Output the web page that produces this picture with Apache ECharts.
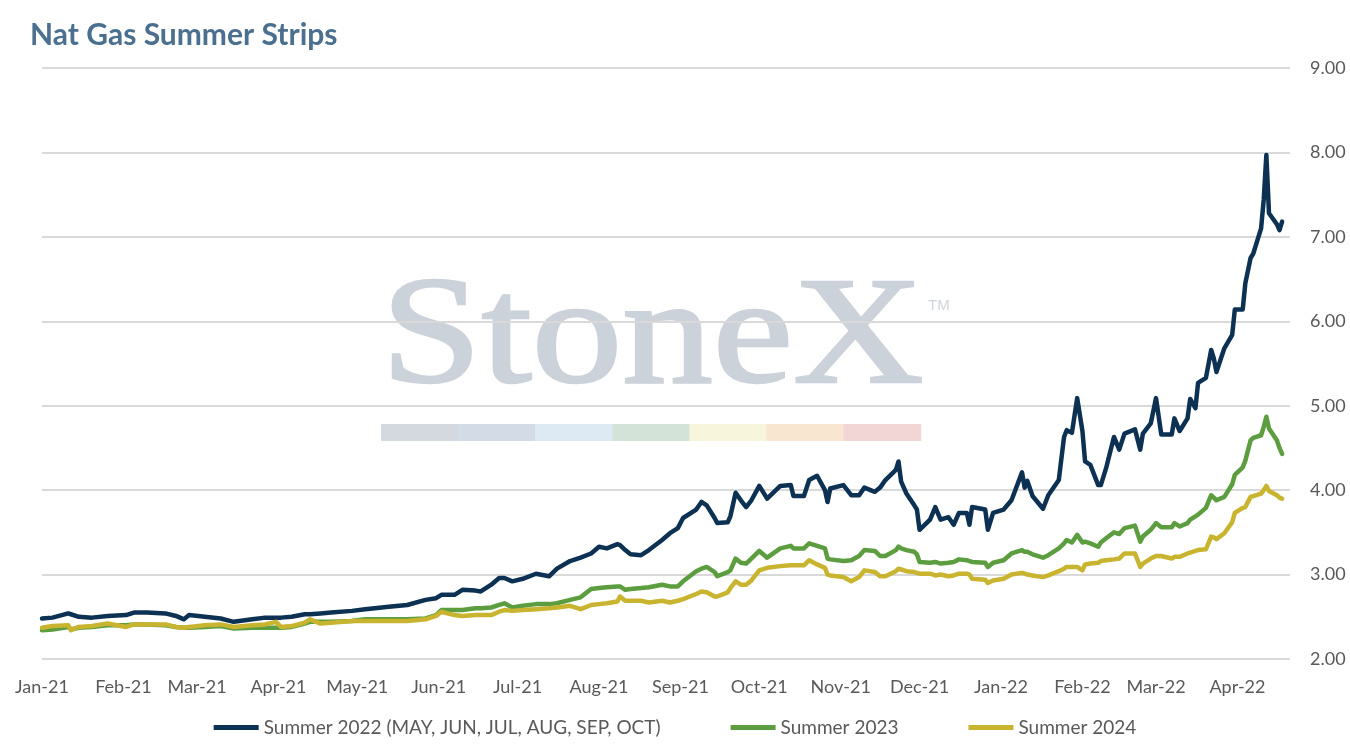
<!DOCTYPE html>
<html>
<head>
<meta charset="utf-8">
<script src="https://cdn.jsdelivr.net/npm/echarts@6/dist/echarts.min.js"></script>
<style>html,body{margin:0;padding:0;background:#fff;}#c{width:1350px;height:750px;}</style>
</head>
<body>
<div id="c"></div>
<script>
const dates = [
'2021-01-01','2021-01-05','2021-01-11','2021-01-12','2021-01-15','2021-01-20','2021-01-26','2021-02-02','2021-02-05','2021-02-10',
'2021-02-17','2021-02-21','2021-02-24','2021-02-26','2021-03-04','2021-03-10','2021-03-15','2021-03-22','2021-03-27','2021-03-31',
'2021-04-02','2021-04-06','2021-04-11','2021-04-13','2021-04-17','2021-04-21','2021-04-29','2021-05-04','2021-05-13','2021-05-20',
'2021-05-27','2021-05-31','2021-06-02','2021-06-07','2021-06-10','2021-06-15','2021-06-17','2021-06-21','2021-06-24','2021-06-26',
'2021-06-29','2021-07-03','2021-07-08','2021-07-13','2021-07-16','2021-07-21','2021-07-25','2021-07-29','2021-08-01','2021-08-04',
'2021-08-08','2021-08-09','2021-08-11','2021-08-13','2021-08-17','2021-08-20','2021-08-25','2021-08-28','2021-08-31','2021-09-02',
'2021-09-07','2021-09-09','2021-09-11','2021-09-14','2021-09-15','2021-09-19','2021-09-20','2021-09-22','2021-09-24','2021-09-26',
'2021-09-28','2021-10-01','2021-10-04','2021-10-09','2021-10-13','2021-10-14','2021-10-18','2021-10-20','2021-10-23','2021-10-26',
'2021-10-27','2021-10-28','2021-11-02','2021-11-05','2021-11-08','2021-11-10','2021-11-14','2021-11-16','2021-11-18','2021-11-22',
'2021-11-23','2021-11-24','2021-11-26','2021-11-29','2021-11-30','2021-12-01','2021-12-05','2021-12-07','2021-12-09','2021-12-12',
'2021-12-14','2021-12-16','2021-12-19','2021-12-20','2021-12-21','2021-12-26','2021-12-27','2021-12-29','2022-01-02','2022-01-05',
'2022-01-09','2022-01-10','2022-01-11','2022-01-13','2022-01-17','2022-01-19','2022-01-23','2022-01-25','2022-01-26','2022-01-28',
'2022-01-30','2022-02-01','2022-02-02','2022-02-04','2022-02-07','2022-02-08','2022-02-10','2022-02-13','2022-02-15','2022-02-17',
'2022-02-21','2022-02-23','2022-02-24','2022-02-27','2022-03-01','2022-03-03','2022-03-07','2022-03-08','2022-03-10','2022-03-13',
'2022-03-14','2022-03-16','2022-03-17','2022-03-20','2022-03-22','2022-03-23','2022-03-24','2022-03-27','2022-03-30','2022-03-31',
'2022-04-03','2022-04-04','2022-04-06','2022-04-07','2022-04-10','2022-04-11','2022-04-12','2022-04-13','2022-04-16','2022-04-17',
'2022-04-18'
];
const summer2022 = [
2.48,2.49,2.54,2.53,2.50,2.49,2.51,2.52,2.55,2.55,
2.54,2.51,2.47,2.52,2.50,2.48,2.44,2.47,2.49,2.49,
2.49,2.50,2.53,2.53,2.54,2.55,2.57,2.59,2.62,2.64,
2.70,2.72,2.76,2.76,2.82,2.81,2.80,2.88,2.96,2.96,
2.92,2.95,3.01,2.98,3.07,3.16,3.20,3.25,3.33,3.31,
3.36,3.35,3.29,3.24,3.23,3.29,3.41,3.49,3.55,3.67,
3.77,3.86,3.82,3.67,3.61,3.62,3.69,3.97,3.88,3.80,
3.88,4.05,3.90,4.05,4.06,3.93,3.93,4.12,4.17,4.00,
3.86,4.02,4.06,3.94,3.94,4.03,3.98,4.03,4.12,4.24,
4.34,4.10,3.96,3.82,3.77,3.53,3.65,3.80,3.65,3.68,
3.59,3.73,3.73,3.59,3.80,3.77,3.53,3.73,3.77,3.88,
4.21,4.03,4.11,3.93,3.78,3.94,4.12,4.63,4.71,4.68,
5.09,4.70,4.34,4.30,4.06,4.06,4.26,4.63,4.48,4.67,
4.72,4.48,4.67,4.79,5.09,4.66,4.66,4.85,4.70,4.85,
5.08,4.97,5.27,5.33,5.66,5.56,5.40,5.68,5.84,6.14,
6.14,6.45,6.75,6.80,7.10,7.44,7.97,7.28,7.15,7.08,
7.18
];
const summer2023 = [
2.34,2.35,2.38,2.35,2.37,2.38,2.40,2.40,2.41,2.41,
2.40,2.38,2.37,2.37,2.38,2.39,2.36,2.37,2.37,2.37,
2.37,2.38,2.42,2.44,2.44,2.44,2.45,2.47,2.47,2.47,
2.48,2.52,2.58,2.58,2.58,2.60,2.60,2.61,2.64,2.66,
2.61,2.63,2.65,2.65,2.66,2.70,2.73,2.83,2.84,2.85,
2.86,2.86,2.82,2.83,2.84,2.85,2.88,2.86,2.86,2.92,
3.04,3.07,3.09,3.03,2.98,3.03,3.05,3.19,3.14,3.13,
3.19,3.28,3.20,3.31,3.34,3.31,3.31,3.37,3.34,3.31,
3.19,3.18,3.16,3.17,3.22,3.29,3.28,3.22,3.22,3.29,
3.33,3.31,3.29,3.27,3.24,3.15,3.14,3.15,3.13,3.14,
3.15,3.18,3.17,3.16,3.15,3.14,3.09,3.14,3.17,3.25,
3.29,3.27,3.27,3.24,3.20,3.23,3.31,3.37,3.41,3.38,
3.47,3.38,3.39,3.37,3.33,3.38,3.43,3.50,3.48,3.55,
3.58,3.39,3.45,3.53,3.61,3.56,3.56,3.61,3.57,3.61,
3.65,3.69,3.71,3.79,3.94,3.91,3.88,3.92,4.07,4.18,
4.27,4.35,4.59,4.62,4.65,4.75,4.87,4.73,4.59,4.50,
4.43
];
const summer2024 = [
2.37,2.39,2.40,2.34,2.38,2.39,2.42,2.38,2.41,2.41,
2.41,2.38,2.37,2.38,2.40,2.41,2.38,2.40,2.41,2.44,
2.38,2.39,2.43,2.47,2.42,2.43,2.45,2.45,2.45,2.45,
2.47,2.51,2.56,2.52,2.51,2.52,2.52,2.52,2.56,2.58,
2.57,2.58,2.59,2.60,2.61,2.63,2.59,2.64,2.65,2.66,
2.68,2.74,2.69,2.69,2.69,2.67,2.69,2.67,2.69,2.71,
2.77,2.80,2.79,2.74,2.74,2.79,2.84,2.92,2.88,2.88,
2.93,3.05,3.08,3.10,3.11,3.11,3.11,3.17,3.12,3.08,
3.00,2.99,2.97,2.92,2.97,3.05,3.03,2.98,2.98,3.04,
3.07,3.06,3.04,3.03,3.02,3.01,3.01,2.99,3.00,2.98,
2.99,3.01,3.01,3.00,2.95,2.94,2.90,2.93,2.95,3.00,
3.02,3.01,3.00,2.99,2.97,2.99,3.04,3.07,3.09,3.09,
3.09,3.05,3.12,3.13,3.14,3.16,3.17,3.18,3.19,3.25,
3.25,3.09,3.13,3.19,3.22,3.22,3.19,3.21,3.21,3.25,
3.26,3.28,3.29,3.30,3.45,3.44,3.42,3.49,3.62,3.73,
3.79,3.80,3.92,3.93,3.96,4.00,4.05,3.99,3.94,3.91,
3.90
];
const seriesNames = ['Summer 2022 (MAY, JUN, JUL, AUG, SEP, OCT)', 'Summer 2023', 'Summer 2024'];
const seriesValues = [summer2022, summer2023, summer2024];
const seriesColors = ['#0c3152', '#5c9e3f', '#c8b42e'];
const yTicks = [2, 3, 4, 5, 6, 7, 8, 9];
const monthNames = ['Jan','Feb','Mar','Apr','May','Jun','Jul','Aug','Sep','Oct','Nov','Dec'];
const barColors = ['#d4d8df','#d3dbe6','#deeaf3','#d4e3d8','#f7f5dc','#f8e6d1','#f2d6d6'];

const chart = echarts.init(document.getElementById('c'), null, {renderer: 'canvas'});
const FONT = 'Lato';
const barEls = barColors.map((c, i) => ({
  type: 'rect', z: -10, silent: true,
  shape: {x: 381 + i * 77.1, y: 424, width: 77.6, height: 17},
  style: {fill: c}
}));
chart.setOption({
  backgroundColor: '#ffffff',
  animation: false,
  title: {
    text: 'Nat Gas Summer Strips', left: 25, top: 15,
    textStyle: {fontFamily: FONT, fontWeight: 'bold', fontSize: 30, color: '#4a6f8f'}
  },
  graphic: [
    {
      type: 'text', z: -10, silent: true, x: 381, y: 342, scaleX: 1.19,
      style: {text: 'StoneX', fontFamily: 'Liberation Serif', fontSize: 152, fill: '#ccd2da', stroke: '#ccd2da', lineWidth: 2.5, align: 'left', verticalAlign: 'middle'}
    },
    {
      type: 'text', z: -10, silent: true, x: 928, y: 306,
      style: {text: 'TM', fontFamily: 'Liberation Sans', fontSize: 15, fill: '#d0d5dc', align: 'left', verticalAlign: 'middle'}
    }
  ].concat(barEls),
  legend: {
    bottom: 8, left: 'center', itemGap: 70, itemWidth: 45, itemHeight: 5, icon: 'rect',
    textStyle: {fontFamily: FONT, fontSize: 19, color: '#595959'},
    data: seriesNames
  },
  grid: {left: 42, right: 60, top: 68, bottom: 91, containLabel: false},
  xAxis: {
    type: 'time',
    min: '2021-01-01', max: '2022-04-21',
    splitNumber: 16,
    minInterval: 28 * 86400000,
    maxInterval: 31 * 86400000,
    axisLine: {show: false}, axisTick: {show: false}, splitLine: {show: false},
    axisLabel: {
      fontFamily: FONT, fontSize: 18, color: '#595959', margin: 19,
      showMaxLabel: false,
      formatter: function (v) {
        const d = new Date(v);
        return monthNames[d.getMonth()] + '-' + String(d.getFullYear()).slice(2);
      }
    }
  },
  yAxis: {
    type: 'value', position: 'right',
    min: yTicks[0], max: yTicks[yTicks.length - 1], interval: 1,
    axisLine: {show: false}, axisTick: {show: false},
    splitLine: {lineStyle: {color: '#d9d9d9', width: 2}},
    axisLabel: {
      fontFamily: FONT, fontSize: 18, color: '#595959', margin: 20,
      formatter: v => v.toFixed(2)
    }
  },
  series: seriesNames.map((name, k) => ({
    name: name, type: 'line', showSymbol: false, symbol: 'none',
    lineStyle: {width: 4.5, color: seriesColors[k], cap: 'round', join: 'round'},
    itemStyle: {color: seriesColors[k]},
    data: dates.map((d, i) => [d, seriesValues[k][i]])
  }))
});
</script>
</body>
</html>
